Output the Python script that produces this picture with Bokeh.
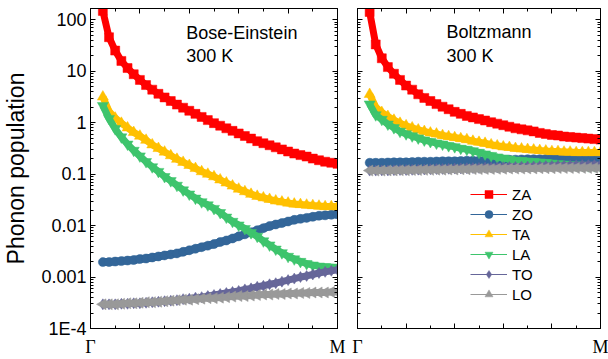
import math
from bokeh.plotting import figure
from bokeh.models import Range1d, FixedTicker, LinearAxis, LogAxis, Label, Legend, LegendItem
from bokeh.layouts import row
from bokeh.embed import file_html
from bokeh.resources import INLINE

# wave-vector positions along Gamma -> M (fraction of path)
q = [0.05, 0.075, 0.1, 0.125, 0.15, 0.175, 0.2, 0.225, 0.25, 0.275, 0.3, 0.325, 0.35,
     0.375, 0.4, 0.425, 0.45, 0.475, 0.5, 0.525, 0.55, 0.575, 0.6, 0.625, 0.65, 0.675,
     0.7, 0.725, 0.75, 0.775, 0.8, 0.825, 0.85, 0.875, 0.9, 0.925, 0.95, 0.975, 1.0]

# Bose-Einstein, 300 K
za_be = [148, 45.7, 25.1, 15.8, 11.5, 8.71, 6.76, 5.37, 4.37, 3.63, 3.09, 2.63, 2.24, 1.95, 1.70,
         1.48, 1.29, 1.12, 0.977, 0.871, 0.776, 0.692, 0.617, 0.550, 0.490, 0.437, 0.398, 0.363,
         0.331, 0.302, 0.275, 0.251, 0.234, 0.219, 0.200, 0.186, 0.174, 0.166, 0.158]
zo_be = [0.00195, 0.00195, 0.00200, 0.00204, 0.00209, 0.00214, 0.00224, 0.00229, 0.00240, 0.00251,
         0.00263, 0.00275, 0.00288, 0.00309, 0.00331, 0.00355, 0.00380, 0.00407, 0.00437, 0.00479,
         0.00513, 0.00562, 0.00617, 0.00676, 0.00741, 0.00813, 0.00891, 0.00977, 0.0105, 0.0112,
         0.0120, 0.0129, 0.0135, 0.0141, 0.0148, 0.0155, 0.0158, 0.0162, 0.0166]
ta_be = [3.16, 1.66, 1.23, 0.977, 0.794, 0.646, 0.550, 0.457, 0.372, 0.316, 0.269, 0.229, 0.195,
         0.170, 0.148, 0.129, 0.112, 0.100, 0.0891, 0.0776, 0.0676, 0.0589, 0.0513, 0.0457, 0.0407,
         0.0372, 0.0347, 0.0324, 0.0302, 0.0288, 0.0275, 0.0263, 0.0257, 0.0251, 0.0245, 0.0240,
         0.0234, 0.0234, 0.0234]
la_be = [2.14, 1.20, 0.759, 0.525, 0.380, 0.288, 0.224, 0.174, 0.138, 0.112, 0.0891, 0.0741, 0.0603,
         0.0490, 0.0407, 0.0339, 0.0288, 0.0251, 0.0214, 0.0178, 0.0145, 0.0120, 0.0102, 0.00871,
         0.00724, 0.00617, 0.00501, 0.00417, 0.00347, 0.00295, 0.00251, 0.00224, 0.00200, 0.00182,
         0.00170, 0.00162, 0.00158, 0.00155, 0.00151]
to_be = [0.000295, 0.000295, 0.000295, 0.000302, 0.000302, 0.000309, 0.000309, 0.000316, 0.000324,
         0.000331, 0.000339, 0.000347, 0.000355, 0.000372, 0.000380, 0.000398, 0.000407, 0.000427,
         0.000447, 0.000468, 0.000490, 0.000513, 0.000537, 0.000575, 0.000603, 0.000646, 0.000676,
         0.000724, 0.000759, 0.000813, 0.000871, 0.000933, 0.00100, 0.00105, 0.00112, 0.00120,
         0.00126, 0.00132, 0.00138]
lo_be = [0.000295, 0.000295, 0.000295, 0.000302, 0.000309, 0.000309, 0.000316, 0.000324, 0.000324,
         0.000331, 0.000339, 0.000347, 0.000355, 0.000363, 0.000363, 0.000372, 0.000380, 0.000389,
         0.000389, 0.000398, 0.000407, 0.000417, 0.000427, 0.000427, 0.000437, 0.000447, 0.000457,
         0.000457, 0.000468, 0.000468, 0.000479, 0.000479, 0.000490, 0.000490, 0.000501, 0.000501,
         0.000501, 0.000513, 0.000513]

# Boltzmann, 300 K
za_bz = [141, 33.1, 17.8, 12.0, 8.91, 6.76, 5.25, 4.37, 3.55, 3.02, 2.63, 2.29, 2.04, 1.82, 1.62,
         1.48, 1.35, 1.26, 1.17, 1.10, 1.02, 0.955, 0.891, 0.832, 0.776, 0.741, 0.708, 0.676, 0.631,
         0.603, 0.575, 0.562, 0.537, 0.525, 0.513, 0.501, 0.490, 0.479, 0.468]
zo_bz = [0.166, 0.166, 0.166, 0.168, 0.170, 0.170, 0.170, 0.172, 0.174, 0.174, 0.174, 0.176, 0.178,
         0.178, 0.178, 0.180, 0.182, 0.182, 0.182, 0.184, 0.186, 0.188, 0.190, 0.190, 0.191, 0.193,
         0.195, 0.195, 0.195, 0.197, 0.200, 0.200, 0.200, 0.202, 0.204, 0.204, 0.204, 0.204, 0.204]
ta_bz = [3.55, 2.00, 1.58, 1.32, 1.12, 0.977, 0.871, 0.794, 0.724, 0.676, 0.631, 0.603, 0.562, 0.537,
         0.513, 0.490, 0.468, 0.437, 0.417, 0.398, 0.372, 0.355, 0.339, 0.331, 0.316, 0.309, 0.302,
         0.295, 0.288, 0.282, 0.275, 0.275, 0.269, 0.269, 0.263, 0.263, 0.263, 0.263, 0.263]
la_bz = [2.29, 1.41, 1.15, 0.933, 0.794, 0.676, 0.603, 0.550, 0.501, 0.457, 0.427, 0.398, 0.380,
         0.355, 0.339, 0.316, 0.302, 0.282, 0.263, 0.245, 0.229, 0.214, 0.204, 0.195, 0.186, 0.182,
         0.178, 0.174, 0.170, 0.166, 0.162, 0.158, 0.155, 0.151, 0.148, 0.148, 0.145, 0.145, 0.141]
to_bz = [0.117, 0.117, 0.118, 0.118, 0.119, 0.120, 0.120, 0.121, 0.122, 0.123, 0.124, 0.125, 0.126,
         0.127, 0.128, 0.129, 0.130, 0.131, 0.132, 0.133, 0.134, 0.135, 0.136, 0.137, 0.138, 0.139,
         0.140, 0.141, 0.142, 0.143, 0.144, 0.145, 0.146, 0.147, 0.148, 0.149, 0.150, 0.150, 0.151]
lo_bz = [0.117, 0.117, 0.117, 0.118, 0.118, 0.119, 0.119, 0.120, 0.120, 0.121, 0.121, 0.122, 0.122,
         0.123, 0.123, 0.124, 0.124, 0.125, 0.125, 0.126, 0.126, 0.127, 0.127, 0.128, 0.128, 0.128,
         0.129, 0.129, 0.130, 0.130, 0.130, 0.131, 0.131, 0.131, 0.132, 0.132, 0.132, 0.132, 0.132]

branches = ["ZA", "ZO", "TA", "LA", "TO", "LO"]
colors = ["#ff0000", "#336699", "#ffc000", "#3ec46d", "#666699", "#999999"]
markers = ["square", "circle", "triangle", "inverted_triangle", "diamond", "triangle"]
msizes = [9, 9, 11, 11, 11, 11]
bands = [7, 8, 7, 7, 7, 7]
mangles = [0, 0, 0, 0, 0, math.pi / 2]

y_ticks = [1e-4, 1e-3, 1e-2, 1e-1, 1, 10, 100]
y_tick_labels = ["1E-4", "0.001", "0.01", "0.1", "1", "10", "100"]
x_ticks = [0, 0.2, 0.4, 0.6, 0.8, 1.0]
x_tick_labels = ["\u0393", "", "", "", "", "M"]
x_minor = [0.1, 0.3, 0.5, 0.7, 0.9]
y_minor = [d * m for d in [1e-4, 1e-3, 1e-2, 1e-1, 1, 10, 100] for m in range(2, 10)]

SANS = "Liberation Sans"
SERIF = "Liberation Serif"
HEIGHT = 359


def tick_style(ax):
    ax.major_tick_in = 5
    ax.major_tick_out = 0
    ax.minor_tick_in = 3
    ax.minor_tick_out = 0
    ax.axis_line_color = "black"
    ax.major_tick_line_color = "black"
    ax.minor_tick_line_color = "black"


def blank_labels(ax, ticks):
    ax.major_label_overrides = {t: "" for t in ticks}
    ax.major_label_text_font_size = "1px"
    ax.major_label_standoff = 0


def make_panel(width, left, right, show_ylabels, series, title, tx, ty):
    p = figure(width=width, height=HEIGHT, output_backend="svg", toolbar_location=None,
               y_axis_type="log", x_range=Range1d(0, 1), y_range=Range1d(1e-4, 165),
               min_border_left=left, min_border_right=right, min_border_top=8,
               min_border_bottom=29)
    p.xgrid.visible = False
    p.ygrid.visible = False
    p.outline_line_color = "black"
    p.outline_line_width = 1
    p.background_fill_color = "white"
    p.border_fill_color = "white"

    # bottom axis
    xa = p.xaxis[0]
    xa.ticker = FixedTicker(ticks=x_ticks, minor_ticks=x_minor)
    xa.major_label_overrides = {t: l for t, l in zip(x_ticks, x_tick_labels)}
    xa.major_label_text_font = SERIF
    xa.major_label_text_font_size = "18px"
    xa.major_label_text_color = "black"
    xa.major_label_standoff = 8
    tick_style(xa)

    # left axis
    ya = p.yaxis[0]
    ya.ticker = FixedTicker(ticks=y_ticks, minor_ticks=y_minor)
    tick_style(ya)
    if show_ylabels:
        ya.major_label_overrides = {t: l for t, l in zip(y_ticks, y_tick_labels)}
        ya.major_label_text_font = SANS
        ya.major_label_text_font_size = "18px"
        ya.major_label_text_color = "black"
        ya.major_label_standoff = 4
        ya.axis_label = "Phonon population"
        ya.axis_label_text_font = SANS
        ya.axis_label_text_font_size = "23px"
        ya.axis_label_text_font_style = "normal"
        ya.axis_label_text_color = "black"
        ya.axis_label_standoff = 9
    else:
        blank_labels(ya, y_ticks)

    # top and right axes (ticks only)
    top = LinearAxis(ticker=FixedTicker(ticks=x_ticks, minor_ticks=x_minor))
    tick_style(top)
    blank_labels(top, x_ticks)
    p.add_layout(top, "above")
    rgt = LogAxis(ticker=FixedTicker(ticks=y_ticks, minor_ticks=y_minor))
    tick_style(rgt)
    blank_labels(rgt, y_ticks)
    p.add_layout(rgt, "right")

    rends = []
    for name, ys, c, m, s, a, bw in zip(branches, series, colors, markers, msizes, mangles, bands):
        p.line(q, ys, line_color=c, line_width=bw)
        lr = p.line(q, ys, line_color=c, line_width=1)
        sr = p.scatter(q, ys, marker=m, size=s, angle=a, fill_color=c, line_color=c, line_width=0.5)
        rends.append((name, lr, sr))

    p.add_layout(Label(x=tx, y=ty, text=title, text_font=SANS, text_font_size="18px",
                       text_color="black"))
    p.add_layout(Label(x=tx, y=12.5, text="300 K", text_font=SANS, text_font_size="18px",
                       text_color="black"))
    return p, rends


p1, _ = make_panel(347, 82, 10, True, [za_be, zo_be, ta_be, la_be, to_be, lo_be],
                   "Bose-Einstein", 0.388, 34.8)
p2, rends = make_panel(261, 10, 8, False, [za_bz, zo_bz, ta_bz, la_bz, to_bz, lo_bz],
                       "Boltzmann", 0.366, 36.3)

legend = Legend(items=[LegendItem(label=n, renderers=[lr, sr]) for n, lr, sr in rends],
                location=(113, 24), glyph_width=37, glyph_height=20, label_height=20,
                spacing=0, padding=0, margin=0, label_standoff=5,
                background_fill_alpha=0, border_line_alpha=0,
                label_text_font=SANS, label_text_font_size="15px", label_text_color="black")
p2.add_layout(legend)

layout = row(p1, p2, spacing=0)

open("out.html", "w").write(file_html(layout, INLINE))
